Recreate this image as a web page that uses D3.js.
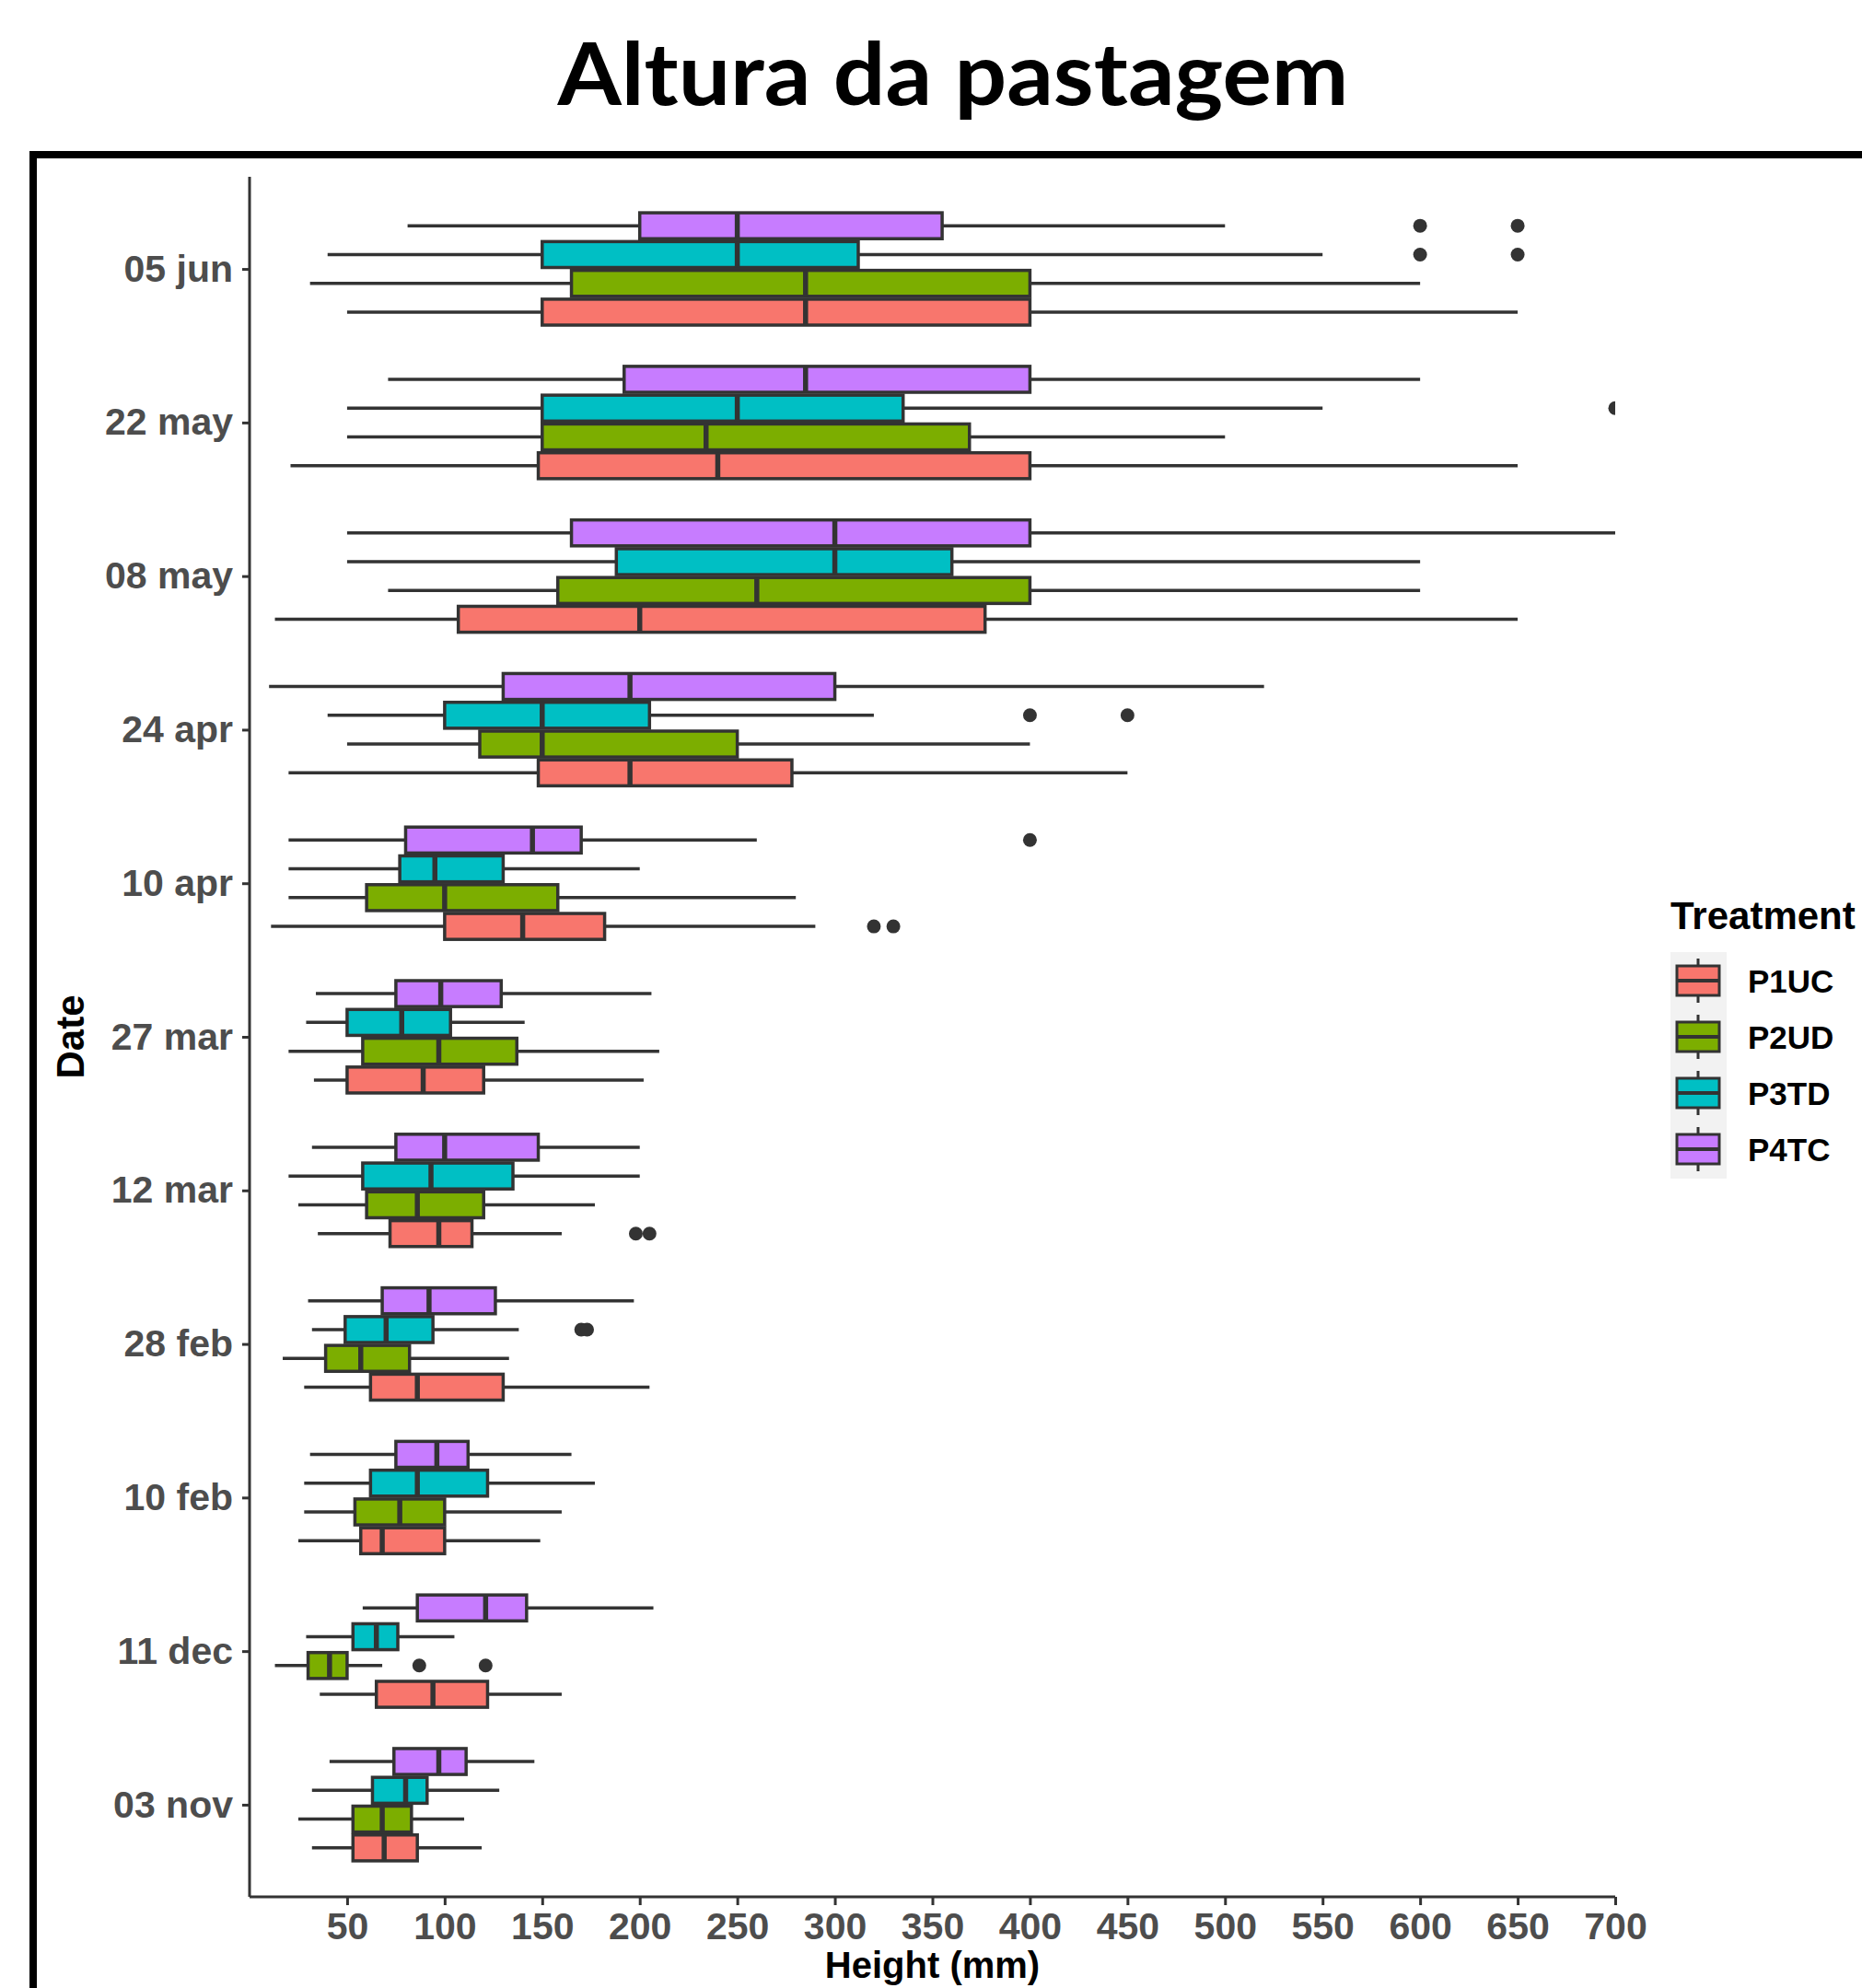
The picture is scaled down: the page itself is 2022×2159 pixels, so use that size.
<!DOCTYPE html>
<html>
<head>
<meta charset="utf-8">
<script src="https://cdn.jsdelivr.net/npm/d3@7"></script>
<style>
  html, body { margin: 0; padding: 0; background: #fff; }
  svg { display: block; }
</style>
</head>
<body>
<svg id="chart" width="2022" height="2159"></svg>
<script>
// Sampling dates, top to bottom as drawn
const dates = ["05 jun", "22 may", "08 may", "24 apr", "10 apr", "27 mar", "12 mar", "28 feb", "10 feb", "11 dec", "03 nov"];
const treatments = ["P1UC", "P2UD", "P3TD", "P4TC"];
const treatmentColors = ["#F8766D", "#7CAE00", "#00BFC4", "#C77CFF"];
const xTicks = [50, 100, 150, 200, 250, 300, 350, 400, 450, 500, 550, 600, 650, 700];

// [whisker low, Q1, median, Q3, whisker high] per date (same order as dates)
const p1uc = [
  [50, 150, 285, 400, 650], [21, 148, 240, 400, 650], [13, 107, 200, 377, 650], [20, 148, 195, 278, 450],
  [11, 100, 140, 182, 290], [33, 50, 89, 120, 202], [35, 72, 97, 114, 160], [28, 62, 86, 130, 205],
  [25, 57, 68, 100, 149], [36, 65, 94, 122, 160], [32, 53, 69, 86, 119]
];
const p2ud = [
  [31, 165, 285, 400, 600], [50, 150, 234, 369, 500], [71, 158, 260, 400, 600], [50, 118, 150, 250, 400],
  [20, 60, 100, 158, 280], [20, 58, 97, 137, 210], [25, 60, 86, 120, 177], [17, 39, 57, 82, 133],
  [28, 54, 77, 100, 160], [13, 30, 41, 50, 68], [25, 53, 68, 83, 110]
];
const p3td = [
  [40, 150, 250, 312, 550], [50, 150, 250, 335, 550], [50, 188, 300, 360, 600], [40, 100, 150, 205, 320],
  [20, 77, 95, 130, 200], [29, 50, 78, 103, 141], [20, 58, 93, 135, 200], [32, 49, 70, 94, 138],
  [28, 62, 86, 122, 177], [29, 53, 65, 76, 105], [32, 63, 80, 91, 128]
];
const p4tc = [
  [81, 200, 250, 355, 500], [71, 192, 285, 400, 600], [50, 165, 300, 400, 700], [10, 130, 195, 300, 520],
  [20, 80, 145, 170, 260], [34, 75, 98, 129, 206], [32, 75, 100, 148, 200], [30, 68, 92, 126, 197],
  [31, 75, 96, 112, 165], [58, 86, 121, 142, 207], [41, 74, 97, 111, 146]
];
const outlierDates = ["05 jun", "05 jun", "05 jun", "05 jun", "22 may", "24 apr", "24 apr", "10 apr", "10 apr", "10 apr", "12 mar", "12 mar", "28 feb", "28 feb", "11 dec", "11 dec"];
const outlierTreatments = ["P4TC", "P4TC", "P3TD", "P3TD", "P3TD", "P3TD", "P3TD", "P4TC", "P1UC", "P1UC", "P1UC", "P1UC", "P3TD", "P3TD", "P2UD", "P2UD"];
const outlierValues = [600, 650, 600, 650, 700, 400, 450, 400, 320, 330, 198, 205, 170, 173, 87, 121];

const statsByTreatment = { P1UC: p1uc, P2UD: p2ud, P3TD: p3td, P4TC: p4tc };
const boxes = [];
treatments.forEach((treatment) => {
  statsByTreatment[treatment].forEach((s, i) => {
    boxes.push({ date: dates[i], treatment, low: s[0], q1: s[1], median: s[2], q3: s[3], high: s[4] });
  });
});
const outliers = outlierValues.map((value, i) => ({ date: outlierDates[i], treatment: outlierTreatments[i], value }));

const svg = d3.select("#chart");
const panel = { left: 271, right: 1754, top: 192, bottom: 2060 };
const ink = "#333333";
const font = "'Liberation Sans', Arial, sans-serif";

const x = d3.scaleLinear().domain([0, 700]).range([panel.left, panel.right]);
const y = d3.scalePoint().domain(dates).range([panel.top, panel.bottom]).padding(0.6);
const step = y.step();
const dodge = d3.scaleBand().domain(treatments.slice().reverse()).range([-0.375 * step, 0.375 * step]);
const boxHeight = dodge.bandwidth() * 0.9;
const color = d3.scaleOrdinal().domain(treatments).range(treatmentColors);

// Title
svg.append("text")
  .attr("x", 1035).attr("y", 114)
  .attr("text-anchor", "middle")
  .attr("font-family", "Lato, 'Open Sans', sans-serif")
  .attr("font-weight", 700)
  .attr("font-size", 94)
  .attr("textLength", 859)
  .attr("lengthAdjust", "spacingAndGlyphs")
  .text("Altura da pastagem");

// Outer frame (runs off the right and bottom edges)
svg.append("rect")
  .attr("x", 36).attr("y", 168)
  .attr("width", 2100).attr("height", 2100)
  .attr("fill", "none")
  .attr("stroke", "#000")
  .attr("stroke-width", 8);

svg.append("clipPath").attr("id", "panel-clip")
  .append("rect")
  .attr("x", panel.left).attr("y", panel.top)
  .attr("width", panel.right - panel.left).attr("height", panel.bottom - panel.top);

const plot = svg.append("g").attr("clip-path", "url(#panel-clip)");

const boxGroups = plot.selectAll(".box")
  .data(boxes)
  .join("g")
  .attr("class", "box")
  .attr("transform", (d) => `translate(0,${y(d.date) + dodge(d.treatment) + dodge.bandwidth() / 2})`);

// Whiskers
boxGroups.append("line")
  .attr("x1", (d) => x(d.low)).attr("x2", (d) => x(d.q1))
  .attr("stroke", ink).attr("stroke-width", 3.5);
boxGroups.append("line")
  .attr("x1", (d) => x(d.q3)).attr("x2", (d) => x(d.high))
  .attr("stroke", ink).attr("stroke-width", 3.5);

// Boxes
boxGroups.append("rect")
  .attr("x", (d) => x(d.q1))
  .attr("y", -boxHeight / 2)
  .attr("width", (d) => x(d.q3) - x(d.q1))
  .attr("height", boxHeight)
  .attr("fill", (d) => color(d.treatment))
  .attr("stroke", ink).attr("stroke-width", 3.5);

// Medians
boxGroups.append("line")
  .attr("x1", (d) => x(d.median)).attr("x2", (d) => x(d.median))
  .attr("y1", -boxHeight / 2).attr("y2", boxHeight / 2)
  .attr("stroke", ink).attr("stroke-width", 5.5);

// Outliers
plot.selectAll(".outlier")
  .data(outliers)
  .join("circle")
  .attr("class", "outlier")
  .attr("cx", (d) => x(d.value))
  .attr("cy", (d) => y(d.date) + dodge(d.treatment) + dodge.bandwidth() / 2)
  .attr("r", 7.5)
  .attr("fill", ink);

// Axes
const xAxis = svg.append("g")
  .attr("transform", `translate(0,${panel.bottom})`)
  .call(d3.axisBottom(x).tickValues(xTicks).tickSize(9).tickSizeOuter(0).tickPadding(8));
const yAxis = svg.append("g")
  .attr("transform", `translate(${panel.left},0)`)
  .call(d3.axisLeft(y).tickSize(8).tickSizeOuter(0).tickPadding(10));

[xAxis, yAxis].forEach((axis) => {
  axis.select(".domain").attr("stroke", ink).attr("stroke-width", 3);
  axis.selectAll(".tick line").attr("stroke", ink).attr("stroke-width", 3);
  axis.selectAll(".tick text")
    .attr("fill", "#4D4D4D")
    .attr("font-family", font)
    .attr("font-weight", 700)
    .attr("font-size", 41);
});
xAxis.select(".domain").attr("d", `M${panel.left},0H${panel.right}`);
yAxis.select(".domain").attr("d", `M0,${panel.top}V${panel.bottom}`);

// Axis titles
svg.append("text")
  .attr("x", (panel.left + panel.right) / 2).attr("y", 2148)
  .attr("text-anchor", "middle")
  .attr("font-family", font).attr("font-weight", 700).attr("font-size", 40)
  .text("Height (mm)");

svg.append("text")
  .attr("transform", `translate(91,${(panel.top + panel.bottom) / 2}) rotate(-90)`)
  .attr("text-anchor", "middle")
  .attr("font-family", font).attr("font-weight", 700).attr("font-size", 42)
  .text("Date");

// Legend
const legend = svg.append("g").attr("transform", "translate(1814,0)");
legend.append("text")
  .attr("x", 0).attr("y", 1009)
  .attr("font-family", font).attr("font-weight", 700).attr("font-size", 42)
  .text("Treatment");

const keyY = d3.scalePoint().domain(treatments).range([1065, 1248]);
legend.append("rect")
  .attr("x", 0).attr("y", 1034).attr("width", 61).attr("height", 246)
  .attr("fill", "#F2F2F2");

const keys = legend.selectAll(".key")
  .data(treatments)
  .join("g")
  .attr("class", "key")
  .attr("transform", (d) => `translate(30,${keyY(d)})`);
keys.append("line")
  .attr("y1", -24).attr("y2", 24)
  .attr("stroke", ink).attr("stroke-width", 3);
keys.append("rect")
  .attr("x", -23).attr("y", -16).attr("width", 46).attr("height", 32)
  .attr("fill", (d) => color(d))
  .attr("stroke", ink).attr("stroke-width", 3);
keys.append("line")
  .attr("x1", -23).attr("x2", 23)
  .attr("stroke", ink).attr("stroke-width", 4);
keys.append("text")
  .attr("x", 54).attr("y", 0)
  .attr("dy", "0.36em")
  .attr("font-family", font).attr("font-weight", 700).attr("font-size", 35)
  .text((d) => d);
</script>
</body>
</html>
